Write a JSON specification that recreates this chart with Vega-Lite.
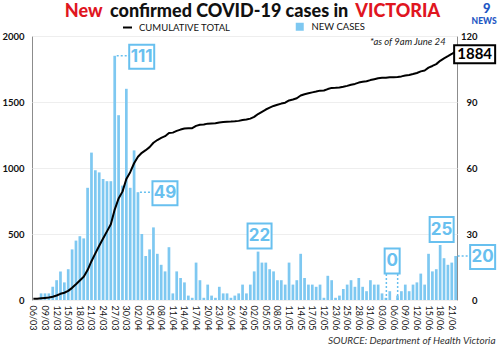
{
  "$schema": "https://vega.github.io/schema/vega-lite/v6.json",
  "width": 425,
  "height": 264,
  "autosize": {"type": "none"},
  "padding": {"left": 32, "top": 36, "right": 43, "bottom": 45},
  "background": "white",
  "config": {
    "font": "Lato",
    "view": {"stroke": "#8c8c8c", "strokeWidth": 1},
    "axis": {"labelFont": "Lato", "labelColor": "#111111", "ticks": false, "domain": false},
    "legend": {"labelFont": "Lato", "labelColor": "#111111", "padding": 0}
  },
  "datasets": {
    "cases": [
      {"i":0,"new_cases":0,"cumulative":10},{"i":1,"new_cases":0,"cumulative":10},{"i":2,"new_cases":3,"cumulative":13},{"i":3,"new_cases":3,"cumulative":16},{"i":4,"new_cases":3,"cumulative":19},
      {"i":5,"new_cases":6,"cumulative":25},{"i":6,"new_cases":9,"cumulative":34},{"i":7,"new_cases":13,"cumulative":47},{"i":8,"new_cases":8,"cumulative":55},{"i":9,"new_cases":14,"cumulative":69},
      {"i":10,"new_cases":23,"cumulative":92},{"i":11,"new_cases":27,"cumulative":119},{"i":12,"new_cases":29,"cumulative":148},{"i":13,"new_cases":28,"cumulative":176},{"i":14,"new_cases":51,"cumulative":227},
      {"i":15,"new_cases":67,"cumulative":294},{"i":16,"new_cases":59,"cumulative":353},{"i":17,"new_cases":58,"cumulative":411},{"i":18,"new_cases":55,"cumulative":466},{"i":19,"new_cases":54,"cumulative":520},
      {"i":20,"new_cases":54,"cumulative":574},{"i":21,"new_cases":111,"cumulative":685},{"i":22,"new_cases":84,"cumulative":769},{"i":23,"new_cases":52,"cumulative":821},{"i":24,"new_cases":96,"cumulative":917},
      {"i":25,"new_cases":51,"cumulative":968},{"i":26,"new_cases":68,"cumulative":1036},{"i":27,"new_cases":49,"cumulative":1085},{"i":28,"new_cases":30,"cumulative":1115},{"i":29,"new_cases":20,"cumulative":1135},
      {"i":30,"new_cases":23,"cumulative":1158},{"i":31,"new_cases":33,"cumulative":1191},{"i":32,"new_cases":21,"cumulative":1212},{"i":33,"new_cases":16,"cumulative":1228},{"i":34,"new_cases":13,"cumulative":1241},
      {"i":35,"new_cases":24,"cumulative":1265},{"i":36,"new_cases":3,"cumulative":1268},{"i":37,"new_cases":13,"cumulative":1281},{"i":38,"new_cases":10,"cumulative":1291},{"i":39,"new_cases":8,"cumulative":1299},
      {"i":40,"new_cases":2,"cumulative":1301},{"i":41,"new_cases":1,"cumulative":1302},{"i":42,"new_cases":17,"cumulative":1319},{"i":43,"new_cases":9,"cumulative":1328},{"i":44,"new_cases":1,"cumulative":1329},
      {"i":45,"new_cases":7,"cumulative":1336},{"i":46,"new_cases":2,"cumulative":1338},{"i":47,"new_cases":1,"cumulative":1339},{"i":48,"new_cases":6,"cumulative":1345},{"i":49,"new_cases":3,"cumulative":1348},
      {"i":50,"new_cases":3,"cumulative":1351},{"i":51,"new_cases":1,"cumulative":1352},{"i":52,"new_cases":2,"cumulative":1354},{"i":53,"new_cases":3,"cumulative":1357},{"i":54,"new_cases":7,"cumulative":1364},
      {"i":55,"new_cases":3,"cumulative":1367},{"i":56,"new_cases":7,"cumulative":1374},{"i":57,"new_cases":13,"cumulative":1387},{"i":58,"new_cases":22,"cumulative":1409},{"i":59,"new_cases":17,"cumulative":1426},
      {"i":60,"new_cases":17,"cumulative":1443},{"i":61,"new_cases":14,"cumulative":1457},{"i":62,"new_cases":13,"cumulative":1470},{"i":63,"new_cases":9,"cumulative":1479},{"i":64,"new_cases":9,"cumulative":1488},
      {"i":65,"new_cases":7,"cumulative":1495},{"i":66,"new_cases":17,"cumulative":1512},{"i":67,"new_cases":7,"cumulative":1519},{"i":68,"new_cases":9,"cumulative":1528},{"i":69,"new_cases":21,"cumulative":1549},
      {"i":70,"new_cases":10,"cumulative":1559},{"i":71,"new_cases":7,"cumulative":1566},{"i":72,"new_cases":7,"cumulative":1573},{"i":73,"new_cases":6,"cumulative":1579},{"i":74,"new_cases":7,"cumulative":1586},
      {"i":75,"new_cases":1,"cumulative":1587},{"i":76,"new_cases":11,"cumulative":1598},{"i":77,"new_cases":9,"cumulative":1607},{"i":78,"new_cases":1,"cumulative":1608},{"i":79,"new_cases":2,"cumulative":1610},
      {"i":80,"new_cases":5,"cumulative":1615},{"i":81,"new_cases":7,"cumulative":1622},{"i":82,"new_cases":9,"cumulative":1631},{"i":83,"new_cases":6,"cumulative":1637},{"i":84,"new_cases":10,"cumulative":1647},
      {"i":85,"new_cases":6,"cumulative":1653},{"i":86,"new_cases":4,"cumulative":1657},{"i":87,"new_cases":9,"cumulative":1666},{"i":88,"new_cases":7,"cumulative":1673},{"i":89,"new_cases":7,"cumulative":1680},
      {"i":90,"new_cases":3,"cumulative":1683},{"i":91,"new_cases":1,"cumulative":1684},{"i":92,"new_cases":4,"cumulative":1688},{"i":93,"new_cases":0,"cumulative":1688},{"i":94,"new_cases":2,"cumulative":1690},
      {"i":95,"new_cases":4,"cumulative":1694},{"i":96,"new_cases":7,"cumulative":1701},{"i":97,"new_cases":4,"cumulative":1705},{"i":98,"new_cases":7,"cumulative":1712},{"i":99,"new_cases":8,"cumulative":1720},
      {"i":100,"new_cases":12,"cumulative":1732},{"i":101,"new_cases":7,"cumulative":1739},{"i":102,"new_cases":21,"cumulative":1760},{"i":103,"new_cases":13,"cumulative":1773},{"i":104,"new_cases":14,"cumulative":1787},
      {"i":105,"new_cases":25,"cumulative":1812},{"i":106,"new_cases":19,"cumulative":1831},{"i":107,"new_cases":16,"cumulative":1847},{"i":108,"new_cases":17,"cumulative":1864},{"i":109,"new_cases":20,"cumulative":1884}
    ],
    "callouts": [
      {"i":21,"v":111,"label":"111"},
      {"i":27,"v":49,"label":"49"},
      {"i":109,"v":20,"label":"20"},
      {"i":58,"v":22,"label":"22"},
      {"i":105,"v":25,"label":"25"},
      {"i":93,"v":0,"label":"0"}
    ]
  },
  "data": {"name": "cases"},
  "encoding": {
    "x": {
      "field": "i",
      "type": "ordinal",
      "scale": {"type": "band", "paddingInner": 0.3, "paddingOuter": 0},
      "axis": {
        "values": [0,3,6,9,12,15,18,21,24,27,30,33,36,39,42,45,48,51,54,57,60,63,66,69,72,75,78,81,84,87,90,93,96,99,102,105,108],
        "labelExpr": "['06/03','09/03','12/03','15/03','18/03','21/03','24/03','27/03','30/03','02/04','05/04','08/04','11/04','14/04','17/04','20/04','23/04','26/04','29/04','02/05','05/05','08/05','11/05','14/05','17/05','12/05','23/06','25/06','28/06','31/06','03/06','06/06','09/06','12/06','15/06','18/06','21/06'][datum.value / 3]",
        "labelAngle": 90,
        "labelAlign": "left",
        "labelBaseline": "middle",
        "labelFontSize": 9,
        "labelPadding": 5,
        "labelOverlap": false,
        "labelFlush": false,
        "grid": false,
        "title": "SOURCE: Department of Health Victoria",
        "titleFont": "Lato",
        "titleFontStyle": "italic",
        "titleFontWeight": "normal",
        "titleFontSize": 10,
        "titleColor": "#333333",
        "titleAnchor": "end",
        "titleAlign": "right",
        "titleBaseline": "middle",
        "titleX": 463,
        "titleY": 40
      }
    }
  },
  "layer": [
    {
      "layer": [
        {
          "mark": {"type": "bar"},
          "encoding": {
            "y": {"field": "new_cases", "type": "quantitative", "scale": {"domain": [0, 120], "nice": false},
              "axis": {"orient": "right", "values": [0,30,60,90,120], "labelAlign": "right", "labelPadding": 20, "labelFontSize": 9.5, "labelFontWeight": "bold", "grid": false, "title": null, "labelFlush": false}},
            "fill": {"datum": "NEW CASES", "type": "nominal", "scale": {"range": ["#7ec8f1"]},
              "legend": {"orient": "none", "legendX": 263, "legendY": -14, "title": null, "symbolType": "square", "symbolSize": 64, "symbolStrokeWidth": 0, "labelFontSize": 9.5, "labelOffset": 7}}
          }
        },
        {
          "data": {"name": "callouts"},
          "transform": [{"filter": {"field": "label", "oneOf": ["111", "49", "20"]}}],
          "mark": {"type": "rule", "stroke": "#68c0ef", "strokeWidth": 1.5, "strokeDash": [2, 2], "xOffset": 2, "x2Offset": 15},
          "encoding": {
            "x2": {"field": "i"},
            "y": {"field": "v", "type": "quantitative", "scale": {"domain": [0, 120], "nice": false}}
          }
        },
        {
          "data": {"name": "callouts"},
          "transform": [{"filter": {"field": "label", "oneOf": ["111", "49", "20"]}}],
          "mark": {"type": "point", "shape": "M-1,-0.96H1V0.96H-1Z", "size": 625, "filled": false, "fill": "white", "stroke": "#68c0ef", "strokeWidth": 2, "opacity": 1, "xOffset": 27, "yOffset": 1},
          "encoding": {
            "y": {"field": "v", "type": "quantitative", "scale": {"domain": [0, 120], "nice": false}}
          }
        },
        {
          "data": {"name": "callouts"},
          "transform": [{"filter": {"field": "label", "oneOf": ["111", "49", "20"]}}],
          "mark": {"type": "text", "font": "Inter", "fontWeight": "bold", "fontSize": 17, "fill": "#68c0ef", "dx": 27, "dy": 1, "align": "center", "baseline": "middle"},
          "encoding": {
            "y": {"field": "v", "type": "quantitative", "scale": {"domain": [0, 120], "nice": false}},
            "text": {"field": "label"}
          }
        },
        {
          "data": {"name": "callouts"},
          "transform": [{"filter": {"field": "label", "oneOf": ["22", "25"]}}],
          "mark": {"type": "point", "shape": "M-0.96,-1H0.96V1H-0.96Z", "size": 625, "filled": false, "fill": "white", "stroke": "#68c0ef", "strokeWidth": 2, "opacity": 1, "xOffset": 1.5, "yOffset": -15.5},
          "encoding": {
            "y": {"field": "v", "type": "quantitative", "scale": {"domain": [0, 120], "nice": false}}
          }
        },
        {
          "data": {"name": "callouts"},
          "transform": [{"filter": {"field": "label", "oneOf": ["22", "25"]}}],
          "mark": {"type": "text", "font": "Inter", "fontWeight": "bold", "fontSize": 17, "fill": "#68c0ef", "dx": 1.5, "dy": -15.5, "align": "center", "baseline": "middle"},
          "encoding": {
            "y": {"field": "v", "type": "quantitative", "scale": {"domain": [0, 120], "nice": false}},
            "text": {"field": "label"}
          }
        },
        {
          "data": {"name": "callouts"},
          "transform": [{"filter": {"field": "label", "equal": "0"}}],
          "mark": {"type": "rule", "stroke": "#68c0ef", "strokeWidth": 1.5, "strokeDash": [2, 2], "xOffset": -7.3, "y2Offset": -26.7},
          "encoding": {
            "y": {"field": "v", "type": "quantitative", "scale": {"domain": [0, 120], "nice": false}},
            "y2": {"field": "v"}
          }
        },
        {
          "data": {"name": "callouts"},
          "transform": [{"filter": {"field": "label", "equal": "0"}}],
          "mark": {"type": "rule", "stroke": "#68c0ef", "strokeWidth": 1.5, "strokeDash": [2, 2], "xOffset": 4, "y2Offset": -26.7},
          "encoding": {
            "y": {"field": "v", "type": "quantitative", "scale": {"domain": [0, 120], "nice": false}},
            "y2": {"field": "v"}
          }
        },
        {
          "data": {"name": "callouts"},
          "transform": [{"filter": {"field": "label", "equal": "0"}}],
          "mark": {"type": "point", "shape": "M-0.6,-1H0.6V1H-0.6Z", "size": 625, "filled": false, "fill": "white", "stroke": "#68c0ef", "strokeWidth": 2, "opacity": 1, "xOffset": -1.5, "yOffset": -39},
          "encoding": {
            "y": {"field": "v", "type": "quantitative", "scale": {"domain": [0, 120], "nice": false}}
          }
        },
        {
          "data": {"name": "callouts"},
          "transform": [{"filter": {"field": "label", "equal": "0"}}],
          "mark": {"type": "text", "font": "Inter", "fontWeight": "bold", "fontSize": 17, "fill": "#68c0ef", "dx": -1.5, "dy": -39, "align": "center", "baseline": "middle"},
          "encoding": {
            "y": {"field": "v", "type": "quantitative", "scale": {"domain": [0, 120], "nice": false}},
            "text": {"field": "label"}
          }
        }
      ]
    },
    {
      "layer": [
        {
          "mark": {"type": "line", "strokeWidth": 2, "strokeJoin": "round"},
          "encoding": {
            "y": {"field": "cumulative", "type": "quantitative", "scale": {"domain": [0, 2000], "nice": false},
              "axis": {"orient": "left", "values": [0,500,1000,1500,2000], "format": "d", "labelFontSize": 9.5, "labelFontWeight": "bold", "labelPadding": 8, "grid": true, "gridColor": "#eeeeee", "title": null, "labelFlush": false}},
            "stroke": {"datum": "CUMULATIVE TOTAL", "type": "nominal", "scale": {"range": ["#000000"]},
              "legend": {"orient": "none", "legendX": 90, "legendY": -14, "title": null, "symbolType": "stroke", "symbolSize": 81, "symbolStrokeWidth": 2, "labelFontSize": 9.5, "labelOffset": 6}}
          }
        },
        {
          "transform": [{"filter": "datum.i == 109"}],
          "mark": {"type": "point", "shape": "M-1,-0.44H1V0.44H-1Z", "size": 1681, "filled": false, "fill": "white", "stroke": "black", "strokeWidth": 2, "opacity": 1, "xOffset": 19, "yOffset": 3},
          "encoding": {
            "y": {"field": "cumulative", "type": "quantitative", "scale": {"domain": [0, 2000], "nice": false}}
          }
        },
        {
          "transform": [{"filter": "datum.i == 109"}],
          "mark": {"type": "text", "font": "Lato", "fontWeight": "bold", "fontSize": 15, "fill": "black", "dx": 19, "dy": 3, "align": "center", "baseline": "middle"},
          "encoding": {
            "y": {"field": "cumulative", "type": "quantitative", "scale": {"domain": [0, 2000], "nice": false}},
            "text": {"field": "cumulative", "type": "quantitative", "format": "d"}
          }
        },
        {
          "data": {"values": [{}]},
          "mark": {"type": "text", "text": "confirmed COVID-19 cases in", "font": "Lato", "fontWeight": 900, "fontSize": 18, "fill": "#111111", "dx": 2.1, "dy": -19, "align": "center", "baseline": "alphabetic"},
          "encoding": {
            "x": {"datum": 50, "type": "ordinal"},
            "y": {"datum": 2000, "type": "quantitative", "scale": {"domain": [0, 2000], "nice": false}}
          }
        },
        {
          "data": {"values": [{}]},
          "mark": {"type": "text", "text": "New", "font": "Lato", "fontWeight": 900, "fontSize": 18, "fill": "#e0161f", "dx": -0.5, "dy": -19, "align": "right", "baseline": "alphabetic"},
          "encoding": {
            "x": {"datum": 18, "type": "ordinal"},
            "y": {"datum": 2000, "type": "quantitative", "scale": {"domain": [0, 2000], "nice": false}}
          }
        },
        {
          "data": {"values": [{}]},
          "mark": {"type": "text", "text": "VICTORIA", "font": "Lato", "fontWeight": 900, "fontSize": 18, "fill": "#e0161f", "dx": 0.4, "dy": -19, "align": "left", "baseline": "alphabetic"},
          "encoding": {
            "x": {"datum": 83, "type": "ordinal"},
            "y": {"datum": 2000, "type": "quantitative", "scale": {"domain": [0, 2000], "nice": false}}
          }
        },
        {
          "data": {"values": [{}]},
          "mark": {"type": "text", "text": "*as of 9am June 24", "font": "Lato", "fontStyle": "italic", "fontSize": 9.5, "fill": "#222222", "dx": -10, "dy": 9, "align": "right", "baseline": "alphabetic"},
          "encoding": {
            "x": {"datum": 109, "type": "ordinal"},
            "y": {"datum": 2000, "type": "quantitative", "scale": {"domain": [0, 2000], "nice": false}}
          }
        },
        {
          "data": {"values": [{}]},
          "mark": {"type": "text", "text": "9", "font": "Lato", "fontWeight": 900, "fontSize": 13, "fill": "#1e56c4", "dx": 31, "dy": -23, "align": "center", "baseline": "alphabetic"},
          "encoding": {
            "x": {"datum": 109, "type": "ordinal"},
            "y": {"datum": 2000, "type": "quantitative", "scale": {"domain": [0, 2000], "nice": false}}
          }
        },
        {
          "data": {"values": [{}]},
          "mark": {"type": "text", "text": "NEWS", "font": "Lato", "fontWeight": 900, "fontSize": 8.5, "fill": "#1e56c4", "dx": 28.5, "dy": -12, "align": "center", "baseline": "alphabetic"},
          "encoding": {
            "x": {"datum": 109, "type": "ordinal"},
            "y": {"datum": 2000, "type": "quantitative", "scale": {"domain": [0, 2000], "nice": false}}
          }
        }
      ]
    }
  ],
  "resolve": {"scale": {"y": "independent"}}
}
